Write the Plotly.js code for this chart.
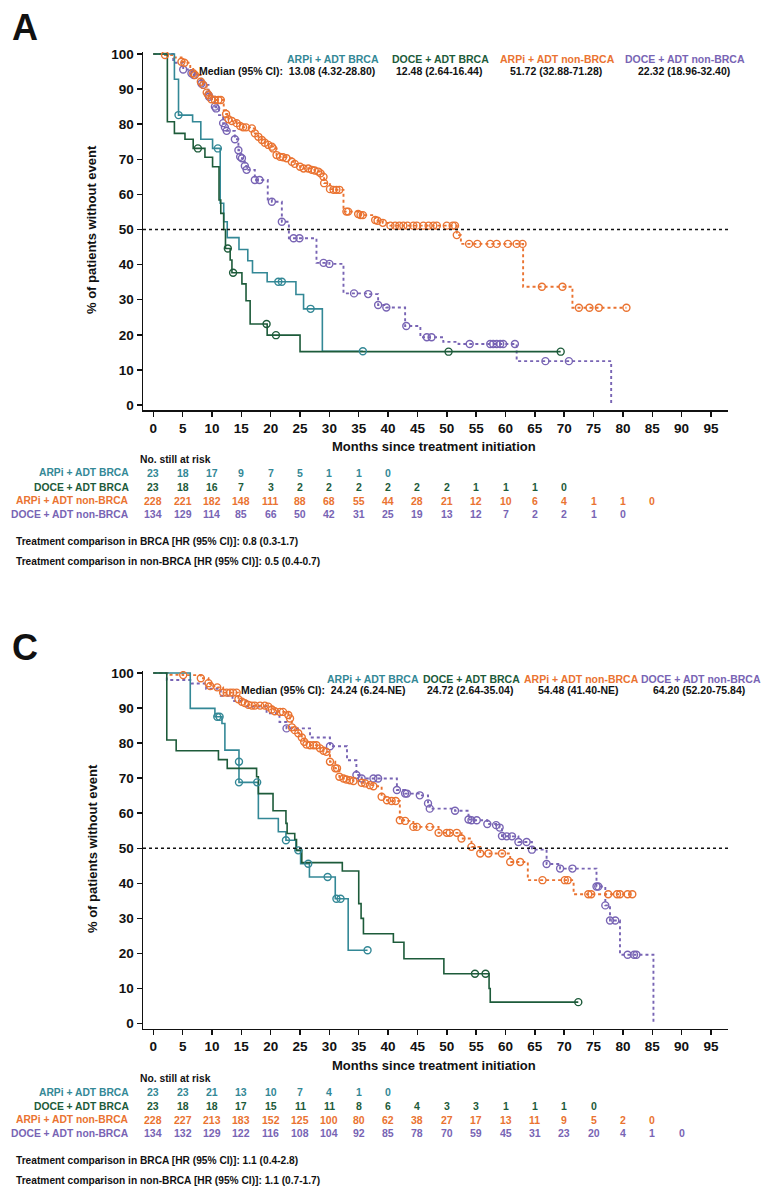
<!DOCTYPE html>
<html><head><meta charset="utf-8">
<script src="https://cdn.plot.ly/plotly-3.0.1.min.js"></script>
<style>html,body{margin:0;padding:0;background:#fff}#chart{width:764px;height:1194px}</style>
</head><body><div id="chart"></div>
<script>
// ---------- series ----------
const seriesNames = ['ARPi + ADT BRCA', 'DOCE + ADT BRCA', 'ARPi + ADT non-BRCA', 'DOCE + ADT non-BRCA'];
const seriesColors = ['#338896', '#1d5b3a', '#ea7331', '#7864b4'];
const seriesDash = ['solid', 'solid', 'dot', 'dot'];

// ---------- Panel A : KM estimates (event steps and censor marks) ----------
const aArpiBrcaEvT = [0, 3.6, 4.3, 6.7, 8.1, 10.1, 11.4, 12.0, 12.6, 14.6, 16.1, 16.9, 19.4, 24.3, 25.6, 28.8];
const aArpiBrcaEvS = [100, 92.8, 82.6, 80.7, 75.7, 73.1, 57.5, 52.2, 47.7, 44.3, 41.1, 37.7, 35.1, 31.5, 27.4, 15.3];
const aArpiBrcaCenT = [4.3, 11.0, 21.3, 21.9, 26.8, 35.7];
const aArpiBrcaCenS = [82.6, 73.1, 35.1, 35.1, 27.4, 15.3];

const aDoceBrcaEvT = [0, 2.4, 3.6, 5.4, 6.8, 8.8, 10.1, 11.2, 11.5, 12.0, 12.3, 13.1, 13.4, 15.1, 15.8, 16.5, 19.4, 25.0];
const aDoceBrcaEvS = [100, 80.7, 77.4, 75.7, 73.1, 70.6, 67.9, 58.4, 54.6, 50.0, 44.6, 41.3, 37.7, 34.5, 29.7, 23.1, 19.9, 15.2];
const aDoceBrcaCenT = [7.6, 12.7, 13.6, 19.3, 20.9, 50.3, 69.4];
const aDoceBrcaCenS = [73.1, 44.6, 37.7, 23.1, 19.9, 15.2, 15.2];

const aArpiNonEvT = [0, 3.5, 6.3, 12.0, 32.4, 52.4, 63.0, 71.4];
const aArpiNonEvS = [100, 99.0, 96.0, 84.0, 55.1, 45.9, 33.7, 27.7];
const aArpiNonCenT = [2.0, 4.8, 5.3, 6.8, 7.1, 8.1, 8.5, 9.1, 9.4, 9.9, 10.5, 11.1, 11.5, 12.4, 12.8, 13.4, 14.2, 14.8, 15.3, 15.8,
  16.8, 17.3, 17.9, 18.5, 19.0, 19.6, 20.2, 20.4, 21.0, 21.6, 22.1, 22.7, 23.6, 24.1, 25.0, 25.6, 26.4, 27.0, 27.5, 28.1,
  28.5, 29.0, 29.1, 30.1, 30.7, 31.2, 31.7, 32.9, 33.2, 34.9, 35.3, 35.7, 37.8, 38.2, 39.1, 40.4, 41.2, 41.9, 42.6, 43.3,
  44.3, 44.9, 46.0, 46.9, 47.7, 48.3, 50.0, 51.0, 51.4, 51.7, 53.8, 55.2, 57.4, 58.5, 60.4, 61.9, 62.9, 66.2, 69.7, 72.5,
  74.3, 75.9, 80.6];
const aArpiNonCenS = [99.7, 97.8, 97.5, 94.5, 94.0, 92.1, 91.2, 89.0, 88.3, 87.1, 86.9, 86.9, 86.9, 82.9, 81.4, 80.9, 80.3, 79.5, 79.1, 79.1,
  78.8, 77.4, 76.4, 75.5, 74.7, 74.1, 73.6, 73.1, 71.2, 70.7, 70.6, 70.3, 69.3, 68.7, 67.9, 67.4, 67.4, 67.0, 66.8, 66.5,
  66.0, 65.0, 63.2, 61.5, 61.3, 61.3, 61.3, 55.1, 55.1, 54.4, 54.1, 54.1, 52.7, 52.5, 51.9, 51.1, 51.1, 51.1, 51.1, 51.1,
  51.1, 51.1, 51.1, 51.1, 51.1, 51.1, 51.1, 51.1, 51.1, 48.4, 45.9, 45.9, 45.9, 45.9, 45.9, 45.9, 45.9, 33.7, 33.7, 27.7,
  27.7, 27.7, 27.7];

const aDoceNonEvT = [0, 3.4, 11.2, 19.5, 23.1, 27.8, 32.4, 42.9, 45.5, 49.4, 52.0, 61.9, 78.0];
const aDoceNonEvS = [100, 97.5, 82.6, 58.5, 47.5, 40.5, 31.8, 22.5, 19.3, 18.0, 17.4, 12.5, 0];
const aDoceNonCenT = [5.1, 6.5, 6.9, 8.2, 8.5, 9.4, 9.5, 10.5, 10.7, 11.9, 12.2, 12.5, 13.9, 14.5, 14.8, 15.1, 15.6, 15.9, 17.3, 18.1,
  20.2, 21.9, 23.9, 24.9, 29.0, 30.0, 34.2, 36.6, 38.3, 39.7, 43.1, 46.6, 47.4, 53.9, 57.4, 57.9, 58.5, 59.1, 59.6, 61.6,
  66.8, 70.8];
const aDoceNonCenS = [95.6, 94.5, 94.0, 91.6, 91.2, 88.3, 87.8, 85.0, 84.5, 80.3, 79.1, 78.1, 75.7, 72.6, 70.7, 70.3, 68.1, 67.0, 64.1, 64.1,
  57.9, 52.2, 47.5, 47.5, 40.5, 40.2, 31.8, 31.6, 28.5, 27.8, 22.5, 19.3, 19.3, 17.4, 17.4, 17.4, 17.4, 17.4, 17.4, 17.4,
  12.5, 12.5];

// ---------- Panel C ----------
const cArpiBrcaEvT = [0, 6.3, 10.5, 11.7, 12.2, 14.6, 17.9, 21.3, 22.6, 24.3, 25.1, 26.6, 31.0, 33.2];
const cArpiBrcaEvS = [100, 89.9, 87.5, 85.6, 78.0, 68.8, 58.5, 54.7, 52.3, 49.4, 45.6, 41.8, 35.6, 20.9];
const cArpiBrcaCenT = [10.9, 11.3, 14.6, 14.6, 17.7, 22.6, 24.7, 26.4, 29.7, 31.2, 31.9, 36.5];
const cArpiBrcaCenS = [87.5, 87.5, 74.7, 68.8, 68.8, 52.3, 49.4, 45.6, 41.8, 35.6, 35.6, 20.9];

const cDoceBrcaEvT = [0, 2.3, 3.9, 11.1, 12.6, 17.6, 17.9, 20.4, 22.6, 22.8, 24.1, 24.4, 25.3, 32.2, 35.0, 35.4, 35.8, 40.9, 42.7, 49.5, 57.2, 57.4];
const cDoceBrcaEvS = [100, 80.9, 77.8, 75.3, 72.8, 70.4, 65.6, 60.7, 57.1, 54.2, 52.5, 49.4, 45.9, 43.5, 34.2, 30.0, 25.6, 23.2, 18.5, 14.2, 10.0, 6.1];
const cDoceBrcaCenT = [54.8, 56.6, 72.4];
const cDoceBrcaCenS = [14.2, 14.2, 6.1];

const cArpiNonEvT = [0, 2.5, 63.8, 71.6];
const cArpiNonEvS = [100, 99.5, 40.9, 36.9];
const cArpiNonCenT = [5.1, 8.1, 9.4, 9.7, 10.9, 11.9, 12.5, 13.1, 13.6, 14.2, 14.5, 15.1, 15.6, 16.2, 16.8, 17.3, 18.2, 19.0, 19.6, 20.2,
  20.7, 21.6, 22.1, 23.0, 23.3, 23.6, 24.1, 24.7, 25.3, 25.7, 26.1, 26.7, 27.3, 27.8, 28.4, 29.0, 29.5, 30.1, 31.0, 31.3,
  31.7, 32.4, 32.9, 33.5, 34.1, 35.5, 36.1, 36.9, 37.5, 38.9, 39.8, 40.6, 41.3, 42.0, 42.9, 44.3, 44.9, 47.1, 48.6, 50.0,
  50.5, 51.7, 52.5, 54.2, 55.7, 57.1, 59.4, 60.8, 62.5, 66.3, 70.1, 70.6, 74.1, 74.6, 77.5, 79.0, 79.5, 80.8, 81.6];
const cArpiNonCenS = [99.4, 98.5, 97.1, 96.3, 95.9, 94.4, 94.4, 94.4, 94.4, 94.4, 92.5, 91.8, 91.4, 90.9, 90.7, 90.7, 90.7, 90.7, 90.4, 89.6,
  89.1, 88.9, 88.9, 88.0, 87.0, 84.5, 83.7, 82.8, 81.6, 80.4, 79.6, 79.4, 79.4, 79.4, 78.5, 77.8, 77.5, 74.7, 72.8, 72.8,
  70.4, 69.9, 69.6, 69.4, 69.2, 68.7, 68.5, 68.0, 67.7, 64.7, 63.7, 63.5, 63.5, 58.0, 57.8, 56.1, 56.1, 56.1, 54.4, 54.4,
  54.4, 54.4, 52.8, 50.4, 48.5, 48.5, 48.5, 46.1, 46.1, 40.9, 40.9, 40.9, 36.9, 36.9, 36.9, 36.9, 36.9, 36.9, 36.9];

const cDoceNonEvT = [0, 2.3, 6.5, 9.0, 11.5, 13.5, 16.0, 19.3, 21.5, 26.7, 33.0, 79.5, 85.2];
const cDoceNonEvS = [100, 98.0, 97.0, 95.5, 93.5, 92.0, 90.4, 88.5, 86.0, 81.6, 75.1, 19.6, 0];
const cDoceNonCenT = [22.7, 30.1, 34.6, 35.5, 37.5, 38.3, 41.5, 42.9, 43.2, 45.4, 46.8, 47.1, 51.4, 53.7, 54.2, 55.1, 56.9, 58.4, 59.0, 59.4,
  60.2, 61.1, 62.2, 63.6, 64.5, 67.0, 69.3, 71.4, 75.5, 75.8, 77.0, 77.8, 78.7, 80.8, 81.9, 82.3];
const cDoceNonCenS = [84.2, 79.1, 70.9, 69.9, 69.9, 69.9, 66.6, 65.6, 65.6, 65.1, 62.8, 61.3, 60.7, 58.2, 58.0, 58.0, 56.9, 56.6, 55.9, 53.5,
  53.4, 53.4, 51.8, 51.8, 49.6, 45.5, 44.2, 44.2, 39.1, 39.1, 33.7, 29.4, 29.4, 19.6, 19.6, 19.6];

// ---------- risk tables ----------
const riskMonths = [0, 5, 10, 15, 20, 25, 30, 35, 40, 45, 50, 55, 60, 65, 70, 75, 80, 85, 90, 95];
const aRiskArpiBrca = [23, 18, 17, 9, 7, 5, 1, 1, 0];
const aRiskDoceBrca = [23, 18, 16, 7, 3, 2, 2, 2, 2, 2, 2, 1, 1, 1, 0];
const aRiskArpiNon = [228, 221, 182, 148, 111, 88, 68, 55, 44, 28, 21, 12, 10, 6, 4, 1, 1, 0];
const aRiskDoceNon = [134, 129, 114, 85, 66, 50, 42, 31, 25, 19, 13, 12, 7, 2, 2, 1, 0];
const cRiskArpiBrca = [23, 23, 21, 13, 10, 7, 4, 1, 0];
const cRiskDoceBrca = [23, 18, 18, 17, 15, 11, 11, 8, 6, 4, 3, 3, 1, 1, 1, 0];
const cRiskArpiNon = [228, 227, 213, 183, 152, 125, 100, 80, 62, 38, 27, 17, 13, 11, 9, 5, 2, 0];
const cRiskDoceNon = [134, 132, 129, 122, 116, 108, 104, 92, 85, 78, 70, 59, 45, 31, 23, 20, 4, 1, 0];

// ---------- texts ----------
const aMedians = ['13.08 (4.32-28.80)', '12.48 (2.64-16.44)', '51.72 (32.88-71.28)', '22.32 (18.96-32.40)'];
const cMedians = ['24.24 (6.24-NE)', '24.72 (2.64-35.04)', '54.48 (41.40-NE)', '64.20 (52.20-75.84)'];
const aHR = ['Treatment comparison in BRCA [HR (95% CI)]: 0.8 (0.3-1.7)', 'Treatment comparison in non-BRCA [HR (95% CI)]: 0.5 (0.4-0.7)'];
const cHR = ['Treatment comparison in BRCA [HR (95% CI)]: 1.1 (0.4-2.8)', 'Treatment comparison in non-BRCA [HR (95% CI)]: 1.1 (0.7-1.7)'];

// ---------- build ----------
const W = 764, H = 1194;
const px = p => p / W, py = p => 1 - p / H;
const BOLD = 'Liberation Sans, Arial, Helvetica, sans-serif';

function mergeKM(evT, evS, cT, cS) {
  const pts = [];
  evT.forEach((t, i) => pts.push([t, evS[i]]));
  cT.forEach((t, i) => pts.push([t, cS[i]]));
  pts.sort((a, b) => a[0] - b[0] || b[1] - a[1]);
  return {x: pts.map(p => p[0]), y: pts.map(p => p[1])};
}

const panels = [
  {xa: 'x', ya: 'y', off: 0,
   ev: [[aArpiBrcaEvT, aArpiBrcaEvS], [aDoceBrcaEvT, aDoceBrcaEvS], [aArpiNonEvT, aArpiNonEvS], [aDoceNonEvT, aDoceNonEvS]],
   cen: [[aArpiBrcaCenT, aArpiBrcaCenS], [aDoceBrcaCenT, aDoceBrcaCenS], [aArpiNonCenT, aArpiNonCenS], [aDoceNonCenT, aDoceNonCenS]],
   risk: [aRiskArpiBrca, aRiskDoceBrca, aRiskArpiNon, aRiskDoceNon], med: aMedians, hr: aHR, letter: 'A',
   head1: [333, 440, 557.5, 685], head2: [439, 556, 684], medEnd: 377, hy1: 59, hy2: 71},
  {xa: 'x2', ya: 'y2', off: 619,
   ev: [[cArpiBrcaEvT, cArpiBrcaEvS], [cDoceBrcaEvT, cDoceBrcaEvS], [cArpiNonEvT, cArpiNonEvS], [cDoceNonEvT, cDoceNonEvS]],
   cen: [[cArpiBrcaCenT, cArpiBrcaCenS], [cDoceBrcaCenT, cDoceBrcaCenS], [cArpiNonCenT, cArpiNonCenS], [cDoceNonCenT, cDoceNonCenS]],
   risk: [cRiskArpiBrca, cRiskDoceBrca, cRiskArpiNon, cRiskDoceNon], med: cMedians, hr: cHR, letter: 'C',
   head1: [373, 471, 581, 701], head2: [470, 578, 699], medEnd: 408, hy1: 679 - 619, hy2: 690 - 619}
];

const traces = [];
const annotations = [];
const shapes = [];
const order = [3, 2, 0, 1];

panels.forEach(P => {
  order.forEach(k => {
    const m = mergeKM(P.ev[k][0], P.ev[k][1], P.cen[k][0], P.cen[k][1]);
    traces.push({x: m.x, y: m.y, xaxis: P.xa, yaxis: P.ya, mode: 'lines', type: 'scatter',
      line: {shape: 'hv', color: seriesColors[k], width: k < 2 ? 1.6 : 1.9, dash: seriesDash[k]},
      hoverinfo: 'skip', showlegend: false});
  });
  order.forEach(k => {
    traces.push({x: P.cen[k][0], y: P.cen[k][1], xaxis: P.xa, yaxis: P.ya, mode: 'markers', type: 'scatter',
      marker: {symbol: 'circle-open', size: 7, color: seriesColors[k], line: {width: 1.4, color: seriesColors[k]}},
      hoverinfo: 'skip', showlegend: false});
  });
  shapes.push({type: 'line', xref: P.xa + ' domain', yref: P.ya, x0: 0, x1: 1, y0: 50, y1: 50,
    line: {color: '#111', width: 1.4, dash: 'dot'}});
  const o = P.off;
  annotations.push({text: P.letter, xref: 'paper', yref: 'paper', x: px(10), y: py(28 + o), xanchor: 'left', yanchor: 'middle',
    showarrow: false, font: {family: BOLD, size: 36, color: '#111', weight: 700}});
  seriesNames.forEach((n, k) => {
    annotations.push({text: n, xref: 'paper', yref: 'paper', x: px(P.head1[k]), y: py(P.hy1 + o), xanchor: 'center', yanchor: 'middle',
      showarrow: false, font: {family: BOLD, size: 10.5, color: seriesColors[k], weight: 700}});
  });
  annotations.push({text: 'Median (95% CI):  ' + P.med[0], xref: 'paper', yref: 'paper', x: px(P.medEnd), y: py(P.hy2 + o),
    xanchor: 'right', yanchor: 'middle', showarrow: false, font: {family: BOLD, size: 10.5, color: '#111', weight: 700}});
  for (let k = 1; k < 4; k++) {
    annotations.push({text: P.med[k], xref: 'paper', yref: 'paper', x: px(P.head2[k - 1]), y: py(P.hy2 + o), xanchor: 'center',
      yanchor: 'middle', showarrow: false, font: {family: BOLD, size: 10.5, color: '#111', weight: 700}});
  }
  annotations.push({text: '% of patients without event', xref: 'paper', yref: 'paper', x: px(92), y: py(230 + o), textangle: -90,
    xanchor: 'center', yanchor: 'middle', showarrow: false, font: {family: BOLD, size: 13, color: '#111', weight: 700}});
  annotations.push({text: 'Months since treatment initiation', xref: 'paper', yref: 'paper', x: px(434), y: py(446 + o),
    xanchor: 'center', yanchor: 'middle', showarrow: false, font: {family: BOLD, size: 13, color: '#111', weight: 700}});
  annotations.push({text: 'No. still at risk', xref: 'paper', yref: 'paper', x: px(138), y: py(459 + o), xanchor: 'left',
    yanchor: 'middle', showarrow: false, font: {family: BOLD, size: 10.3, color: '#111', weight: 700}});
  const rowY = [473, 487, 500.5, 514];
  seriesNames.forEach((n, k) => {
    annotations.push({text: n, xref: 'paper', yref: 'paper', x: px(131), y: py(rowY[k] + o), xanchor: 'right', yanchor: 'middle',
      showarrow: false, font: {family: BOLD, size: 10.3, color: seriesColors[k], weight: 700}});
    P.risk[k].forEach((v, i) => {
      annotations.push({text: String(v), xref: P.xa, yref: 'paper', x: riskMonths[i], y: py(rowY[k] + o), xanchor: 'center',
        yanchor: 'middle', showarrow: false, font: {family: BOLD, size: 10.5, color: seriesColors[k], weight: 700}});
    });
  });
  P.hr.forEach((t, j) => {
    annotations.push({text: t, xref: 'paper', yref: 'paper', x: px(14), y: py(541 + 20 * j + o), xanchor: 'left', yanchor: 'middle',
      showarrow: false, font: {family: BOLD, size: 10.2, color: '#111', weight: 700}});
  });
});

const xAxisBase = {range: [-1.75, 97.9], tickvals: riskMonths, ticktext: riskMonths.map(String), ticks: 'outside', ticklen: 5,
  tickwidth: 1.5, tickcolor: '#111', showline: true, linecolor: '#111', linewidth: 1.5, showgrid: false, zeroline: false,
  tickfont: {family: BOLD, size: 13.5, color: '#111', weight: 700}, domain: [px(143), px(728)], fixedrange: true};
const yAxisBase = {range: [-1.42, 100.57], tickvals: [0, 10, 20, 30, 40, 50, 60, 70, 80, 90, 100], ticks: 'outside', ticklen: 5,
  tickwidth: 1.5, tickcolor: '#111', showline: true, linecolor: '#111', linewidth: 1.5, showgrid: false, zeroline: false,
  tickfont: {family: BOLD, size: 13.5, color: '#111', weight: 700}, fixedrange: true};

const layout = {
  width: W, height: H, margin: {l: 0, r: 0, t: 0, b: 0}, paper_bgcolor: '#fff', plot_bgcolor: '#fff', showlegend: false,
  xaxis: Object.assign({}, xAxisBase, {anchor: 'y'}),
  yaxis: Object.assign({}, yAxisBase, {anchor: 'x', domain: [py(410), py(52)]}),
  xaxis2: Object.assign({}, xAxisBase, {anchor: 'y2'}),
  yaxis2: Object.assign({}, yAxisBase, {anchor: 'x2', domain: [py(1028.5), py(671)]}),
  annotations: annotations, shapes: shapes
};

Plotly.newPlot('chart', traces, layout, {staticPlot: true, displayModeBar: false});
</script></body></html>
